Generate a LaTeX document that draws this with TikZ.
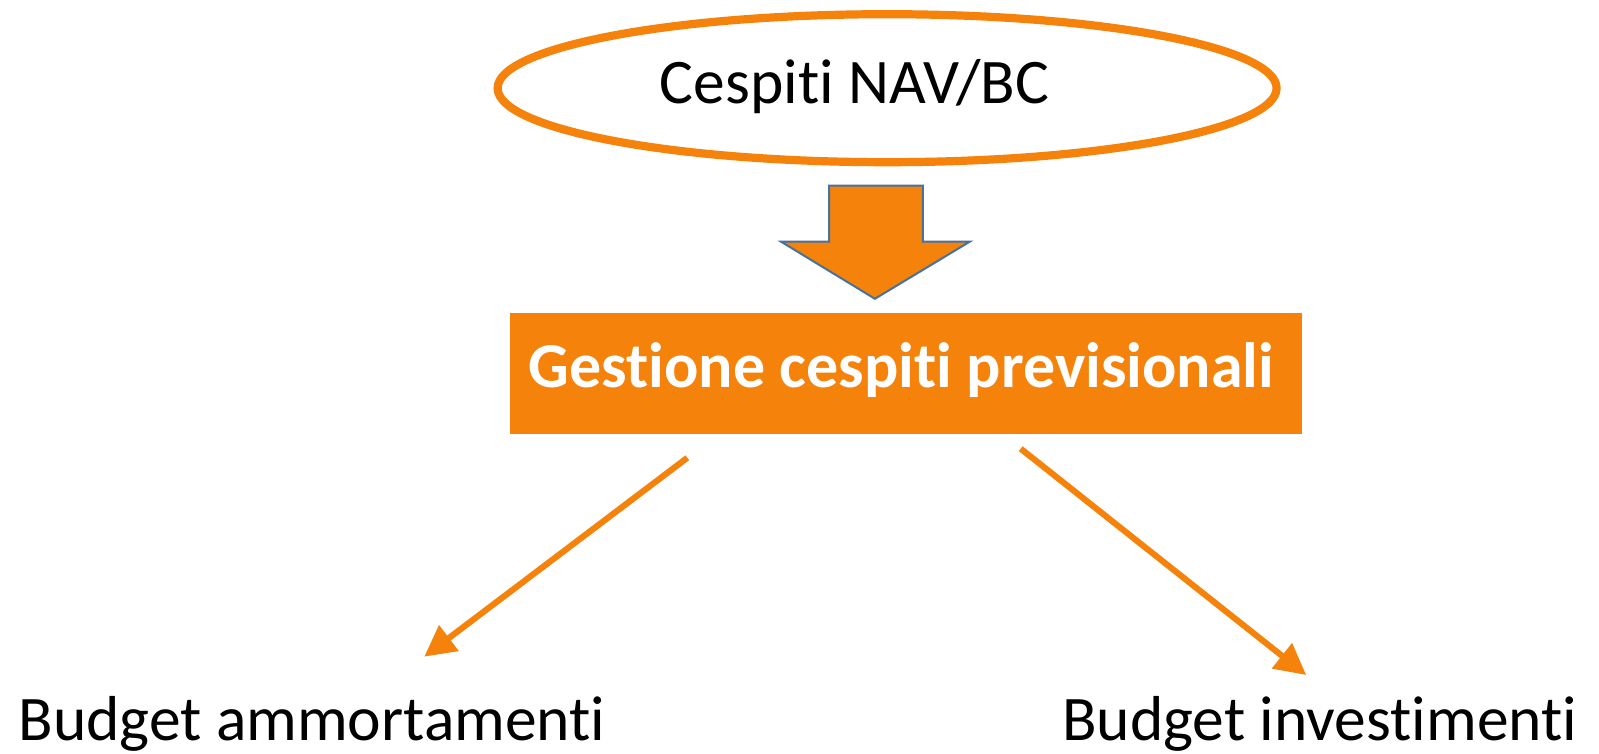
\documentclass[tikz,border=0pt]{standalone}
\usepackage{fontspec}
\setmainfont{Carlito}[Ligatures={NoCommon},RawFeature={-liga}]
\usetikzlibrary{arrows.meta,shapes.geometric}
\definecolor{orng}{RGB}{245,130,10}
\definecolor{edgeblue}{RGB}{70,114,160}
\tikzset{
  lbl/.style={inner sep=0pt,font=\fontsize{63.5}{70}\selectfont,text=black},
  conn/.style={draw=orng,line width=6.1pt,-{Triangle[length=31pt,width=31pt]}},
}
\begin{document}
\begin{tikzpicture}[x=1pt,y=-1pt]
\useasboundingbox (0,0) rectangle (1599,754);
% ellipse
\node[ellipse,draw=orng,line width=8.2pt,minimum width=779pt,minimum height=148pt,inner sep=0pt] (src) at (887.1,88.2) {};
\node[lbl,anchor=base] (srct) at (854.5,104) {Cespiti NAV/BC};
% block arrow
\draw[fill=orng,draw=edgeblue,line width=2pt,line join=miter] (829,185.6) -- (922.8,185.6) -- (922.8,241.7) -- (969.7,241.7) -- (874.9,298.8) -- (781.1,241.7) -- (829,241.7) -- cycle;
% box
\node[fill=orng,minimum width=792.3pt,minimum height=121.4pt,inner sep=0pt] (box) at (906,373.7) {};
\node[inner sep=0pt,anchor=base,text=white,font=\fontsize{64}{70}\selectfont\bfseries] (boxt) at (901.4,387.5) {Gestione cespiti previsionali};
% outputs
\node[lbl,anchor=base west] (left) at (18.4,740.5) {Budget ammortamenti};
\node[lbl,anchor=base east] (right) at (1577.5,740.5) {Budget investimenti};
% connectors
\coordinate (l0) at (687.3,457.8);
\coordinate (l1) at (424.2,656.7);
\coordinate (r0) at (1020.7,448.7);
\coordinate (r1) at (1306.2,675);
\draw[conn] (l0) -- (l1);
\draw[conn] (r0) -- (r1);
\end{tikzpicture}
\end{document}
